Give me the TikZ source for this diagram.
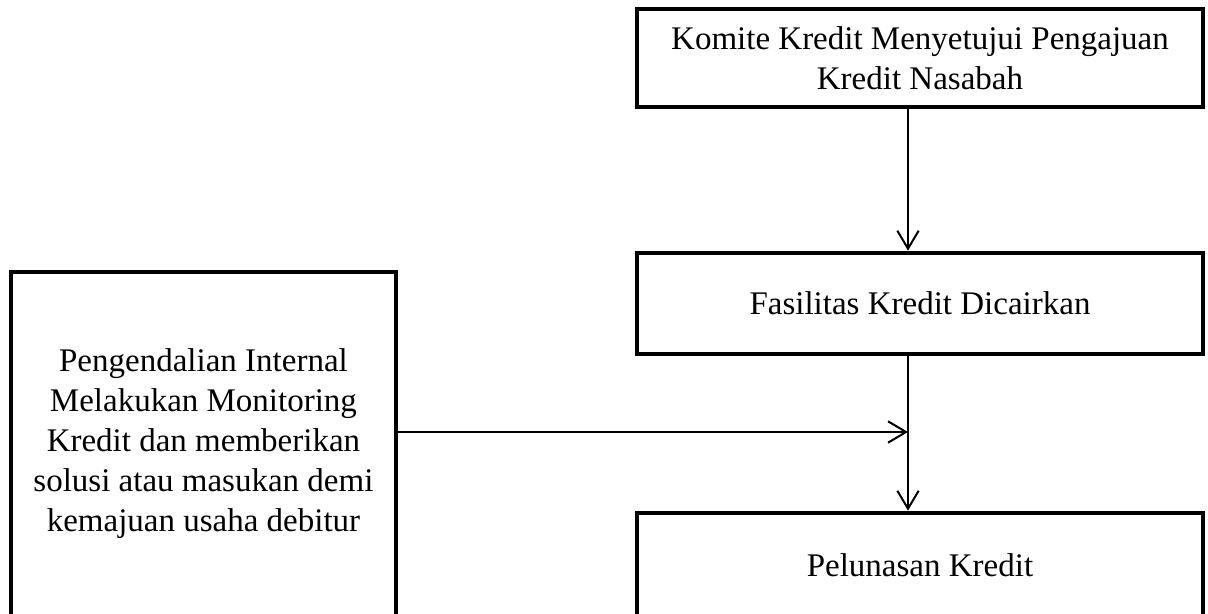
\documentclass[tikz,border=0pt]{standalone}
\usepackage{fontspec}
\setmainfont{Liberation Serif}
\usetikzlibrary{arrows.meta,positioning}

\begin{document}
\begin{tikzpicture}
[font=\fontsize{24.75pt}{30pt}\selectfont,
% STYLES
kotak/.style={rectangle, draw, line width=3.5pt, align=center, minimum width=424.5pt, minimum height=73.5pt, inner sep=0pt},
kontrolbox/.style={rectangle, draw, line width=3.5pt, align=center, minimum width=288.75pt, minimum height=258pt, inner sep=0pt},
panah/.style={-{Straight Barb[length=13.5pt,width=16pt]}, line width=1.5pt}]

% frame of the picture
\clip (0,0) rectangle (906pt,-460.5pt);

% right column
\node [kotak] (komite) at (690pt,-43.5pt) {Komite Kredit Menyetujui Pengajuan\\Kredit Nasabah};
\node [kotak, minimum height=75.75pt, below=106pt of komite] (cair) {Fasilitas Kredit Dicairkan};
\node [kotak, minimum height=78pt, below=115.75pt of cair] (lunas) {Pelunasan Kredit};

% left box
\node [kontrolbox] (kontrol) at (152.6pt,-333pt) {Pengendalian Internal\\Melakukan Monitoring\\Kredit dan memberikan\\solusi atau masukan demi\\kemajuan usaha debitur};

\coordinate (poros) at ([xshift=-9pt]cair.south);

%%%%%%%%%%%%%%%%

\draw[panah] ([xshift=-9pt]komite.south) -- ([xshift=-9pt]cair.north);
\draw[panah] (poros) -- ([xshift=-9pt]lunas.north);
\draw[panah] ([yshift=9pt]kontrol.east) -- ([yshift=9pt]kontrol.east -| poros);

\end{tikzpicture}
\end{document}
